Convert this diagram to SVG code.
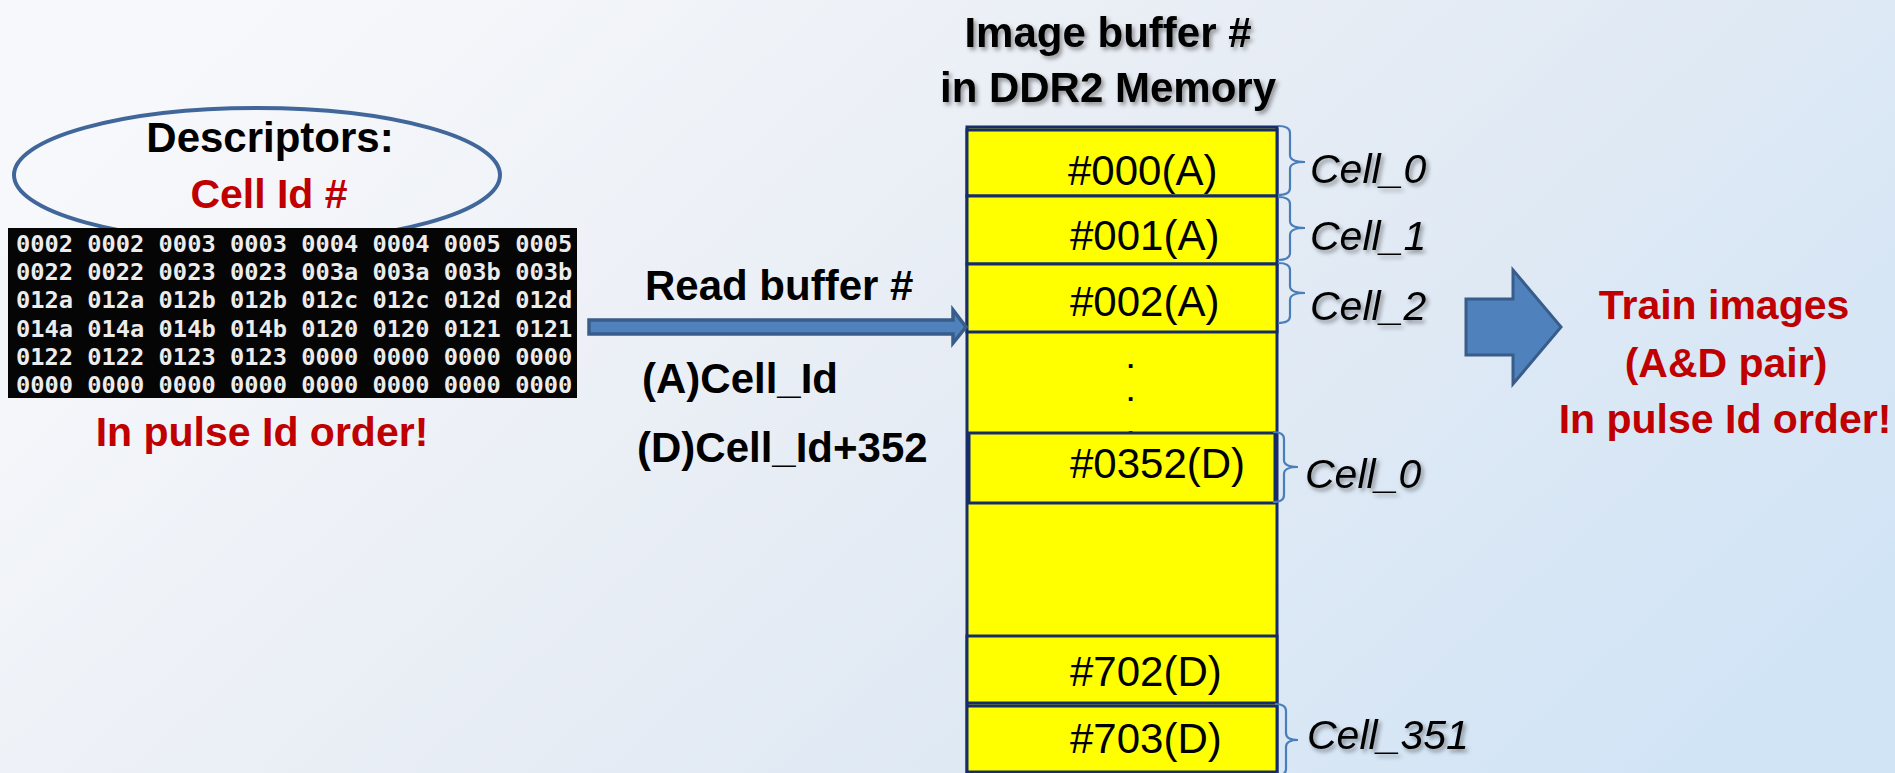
<svg xmlns="http://www.w3.org/2000/svg" width="1895" height="773" viewBox="0 0 1895 773">
  <defs>
    <linearGradient id="bg" x1="0" y1="0.3" x2="1" y2="0.75">
      <stop offset="0" stop-color="#f7f8fb"/>
      <stop offset="0.5" stop-color="#e6ecf4"/>
      <stop offset="1" stop-color="#d1e4f6"/>
    </linearGradient>
    <filter id="softShadow" x="-10%" y="-20%" width="130%" height="160%">
      <feDropShadow dx="2.5" dy="3" stdDeviation="2" flood-color="#000" flood-opacity="0.4"/>
    </filter>
    <style>
      .b42 { font-family: "Liberation Sans", Arial, sans-serif; font-weight: bold; font-size: 42px; fill: #000; }
      .red { font-family: "Liberation Sans", Arial, sans-serif; font-weight: bold; font-size: 41px; fill: #c00000; }
      .slot { fill: #ffff00; stroke: #162d6a; stroke-width: 3; }
      .slotText { font-family: "Liberation Sans", Arial, sans-serif; font-size: 42px; fill: #000; }
      .dots { font-family: "Liberation Sans", Arial, sans-serif; font-size: 26px; font-weight: bold; fill: #000; }
      .tag { font-family: "Liberation Sans", Arial, sans-serif; font-style: italic; font-size: 41px; fill: #000; filter: url(#softShadow); }
      .brace { fill: none; stroke: #4a7ebb; stroke-width: 2.2; }
      .hex { font-family: "DejaVu Sans Mono", "Liberation Mono", monospace; font-weight: bold; font-size: 23.7px; fill: #ececec; }
      .blockArrow { fill: #4f81bd; stroke: #385d8a; }
    </style>
  </defs>

  <!-- slide background -->
  <rect x="0" y="0" width="1895" height="773" fill="url(#bg)"/>

  <!-- descriptor list -->
  <g id="descriptors">
    <ellipse cx="257" cy="175" rx="243" ry="67" fill="none" stroke="#41679a" stroke-width="4"/>
    <text class="b42" x="270" y="152" text-anchor="middle" font-size="40">Descriptors:</text>
    <text class="red" x="269" y="208" text-anchor="middle" font-size="40">Cell Id #</text>
    <rect x="8" y="228" width="569" height="170" fill="#050505"/>
    <text class="hex" x="16" y="252">0002 0002 0003 0003 0004 0004 0005 0005</text>
    <text class="hex" x="16" y="280">0022 0022 0023 0023 003a 003a 003b 003b</text>
    <text class="hex" x="16" y="308">012a 012a 012b 012b 012c 012c 012d 012d</text>
    <text class="hex" x="16" y="337">014a 014a 014b 014b 0120 0120 0121 0121</text>
    <text class="hex" x="16" y="365">0122 0122 0123 0123 0000 0000 0000 0000</text>
    <text class="hex" x="16" y="393">0000 0000 0000 0000 0000 0000 0000 0000</text>
    <text class="red" x="262" y="446" text-anchor="middle">In pulse Id order!</text>
  </g>

  <!-- read-address notes -->
  <g id="read-notes">
    <text class="b42" x="645" y="300" font-size="41">Read buffer #</text>
    <text class="b42" x="642" y="393" font-size="41">(A)Cell_Id</text>
    <text class="b42" x="637" y="462">(D)Cell_Id+352</text>
  </g>

  <!-- image buffer column in DDR2 -->
  <g id="image-buffer">
    <g filter="url(#softShadow)">
      <text class="b42" x="1108" y="47" text-anchor="middle">Image buffer #</text>
      <text class="b42" x="1108" y="102" text-anchor="middle">in DDR2 Memory</text>
    </g>
    <rect class="slot" x="967" y="127" width="310" height="645"/>
    <rect class="slot" x="967" y="130" width="310" height="66"/>
    <rect class="slot" x="967" y="196" width="310" height="68"/>
    <rect class="slot" x="967" y="264" width="310" height="68"/>
    <text class="slotText" x="1068" y="185">#000(A)</text>
    <text class="slotText" x="1070" y="250">#001(A)</text>
    <text class="slotText" x="1070" y="316">#002(A)</text>
    <!-- vertical ellipsis between the A and D halves -->
    <text class="dots"><tspan x="1127" y="368">.</tspan><tspan x="1127" dy="33">.</tspan><tspan x="1127" dy="34">.</tspan></text>
    <rect class="slot" x="969" y="433" width="306" height="70"/>
    <text class="slotText" x="1070" y="478">#0352(D)</text>
    <rect class="slot" x="967" y="636" width="310" height="67"/>
    <text class="slotText" x="1070" y="686">#702(D)</text>
    <rect class="slot" x="967" y="706" width="310" height="66"/>
    <text class="slotText" x="1070" y="753">#703(D)</text>
  </g>

  <!-- cell braces and labels -->
  <g id="cell-braces">
    <path class="brace" d="M1278 126 Q1290 126 1290 133 V155 Q1290 162 1305 162 Q1290 162 1290 169 V188 Q1290 195 1278 195"/>
    <path class="brace" d="M1278 197 Q1290 197 1290 204 V221 Q1290 228 1305 228 Q1290 228 1290 235 V253 Q1290 260 1278 260"/>
    <path class="brace" d="M1278 263 Q1290 263 1290 270 V286 Q1290 293 1305 293 Q1290 293 1290 300 V316 Q1290 323 1278 323"/>
    <path class="brace" d="M1273 432 Q1284 432 1284 439 V460 Q1284 467 1298 467 Q1284 467 1284 474 V495 Q1284 502 1273 502"/>
    <path class="brace" d="M1275 704 Q1286 704 1286 711 V733 Q1286 740 1298 740 Q1286 740 1286 747 V769 Q1286 776 1275 776"/>
    <text class="tag" x="1310" y="183">Cell_0</text>
    <text class="tag" x="1310" y="250">Cell_1</text>
    <text class="tag" x="1310" y="320">Cell_2</text>
    <text class="tag" x="1305" y="488">Cell_0</text>
    <text class="tag" x="1307" y="749">Cell_351</text>
  </g>

  <!-- output description -->
  <g id="train-images">
    <text class="red" x="1724" y="319" text-anchor="middle">Train images</text>
    <text class="red" x="1726" y="377" text-anchor="middle">(A&amp;D pair)</text>
    <text class="red" x="1725" y="433" text-anchor="middle">In pulse Id order!</text>
  </g>

  <!-- arrows -->
  <g id="connectors">
    <polygon class="blockArrow" stroke-width="3.5" points="589,320 953,320 953,310 966,327 953,343 953,334 589,334"/>
    <polygon class="blockArrow" stroke-width="3" points="1466,299 1513,299 1513,270 1561,327 1513,384 1513,355 1466,355"/>
  </g>
</svg>
